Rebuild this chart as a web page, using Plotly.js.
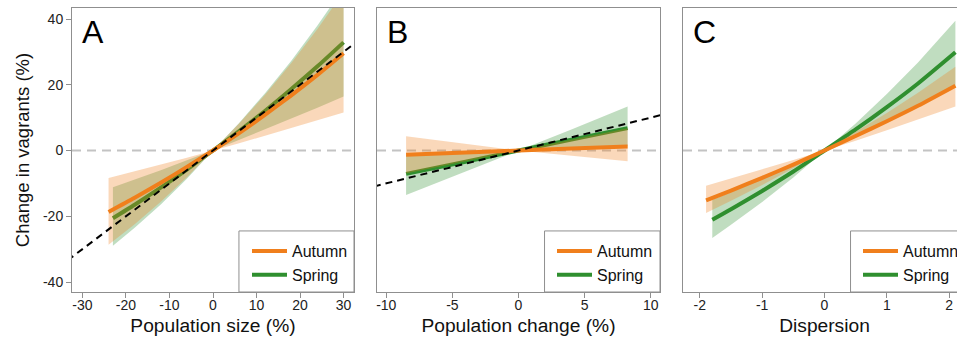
<!DOCTYPE html>
<html><head><meta charset="utf-8">
<script src="https://cdn.plot.ly/plotly-3.0.1.min.js"></script>
<style>html,body{margin:0;padding:0;overflow:hidden;background:#fff}#chart{width:975px;height:342px}</style>
</head><body><div id="chart"></div>
<script>
// Panel A: Population size (%)
const A_aut_x   = [-24, -18, -12, -6, 0, 6, 12, 18, 24, 30];
const A_aut_y   = [-18.7, -14.4, -9.8, -5.0, 0, 5.3, 10.9, 16.8, 23.0, 29.6];
const A_aut_hi  = [-8.4, -6.4, -4.3, -2.2, 0, 8.2, 17.0, 26.6, 37.0, 48.2];
const A_aut_lo  = [-28.7, -22.4, -15.6, -8.1, 0, 2.2, 4.5, 6.8, 9.2, 11.6];
const A_spr_x   = [-23, -18, -12, -6, 0, 6, 12, 18, 24, 30];
const A_spr_y   = [-20.6, -16.5, -11.3, -5.8, 0, 5.9, 12.1, 18.7, 25.6, 32.9];
const A_spr_hi  = [-11.2, -8.9, -6.0, -3.0, 0, 8.4, 17.5, 27.3, 38.0, 49.5];
const A_spr_lo  = [-29.0, -23.5, -16.4, -8.6, 0, 3.1, 6.4, 9.7, 13.0, 16.4];
// Panel B: Population change (%)
const B_aut_x   = [-8.5, -4, 0, 4, 8.25];
const B_aut_y   = [-1.3, -0.6, 0, 0.6, 1.2];
const B_aut_hi  = [4.3, 2.0, 0, 3.3, 6.8];
const B_aut_lo  = [-7.0, -3.3, 0, -1.6, -3.3];
const B_spr_x   = [-8.5, -4, 0, 4, 8.25];
const B_spr_y   = [-7.1, -3.4, 0, 3.3, 6.8];
const B_spr_hi  = [-1.3, -0.6, 0, 6.4, 13.4];
const B_spr_lo  = [-13.5, -6.4, 0, 0.6, 1.2];
// Panel C: Dispersion
const C_aut_x   = [-1.9, -1.5, -1, -0.5, 0, 0.5, 1, 1.5, 2.1];
const C_aut_y   = [-15.2, -12.2, -8.3, -4.3, 0, 4.4, 8.9, 13.6, 19.7];
const C_aut_hi  = [-10.7, -8.5, -5.8, -2.9, 0, 5.6, 11.4, 17.6, 25.5];
const C_aut_lo  = [-19.0, -15.3, -10.5, -5.4, 0, 3.0, 6.2, 9.4, 13.4];
const C_spr_x   = [-1.8, -1.5, -1, -0.5, 0, 0.5, 1, 1.5, 2.1];
const C_spr_y   = [-21.1, -17.9, -12.3, -6.4, 0, 6.4, 13.2, 20.4, 29.9];
const C_spr_hi  = [-15.0, -12.7, -8.6, -4.4, 0, 8.2, 17.2, 26.8, 39.5];
const C_spr_lo  = [-26.6, -22.6, -15.7, -8.2, 0, 4.3, 8.9, 13.6, 19.5];
// 1:1 reference line
const ref_x = [-40, 40];
const ref_y = [-40, 40];

const seriesNames = ['Autumn', 'Spring'];
const panelLetters = ['A', 'B', 'C'];
const xTitles = ['Population size (%)', 'Population change (%)', 'Dispersion'];
const yTitle = 'Change in vagrants (%)';
const xTicksA = [-30, -20, -10, 0, 10, 20, 30];
const xTicksB = [-10, -5, 0, 5, 10];
const xTicksC = [-2, -1, 0, 1, 2];
const yTicks = [-40, -20, 0, 20, 40];

const ORANGE = '#f07f1c', GREEN = '#2f8f2f';
const ORANGE_FILL = 'rgba(240,127,28,0.30)', GREEN_FILL = 'rgba(47,143,47,0.30)';

function band(x, lo, hi, fill, xa, ya) {
  return {x: x.concat(x.slice().reverse()), y: hi.concat(lo.slice().reverse()),
    type: 'scatter', mode: 'lines', fill: 'toself', fillcolor: fill,
    line: {width: 0}, hoverinfo: 'skip', showlegend: false, xaxis: xa, yaxis: ya};
}
function line(x, y, color, name, rank, xa, ya, leg) {
  return {x: x, y: y, type: 'scatter', mode: 'lines', name: name,
    line: {color: color, width: 4, shape: 'spline', smoothing: 0.6}, legendrank: rank, legend: leg, xaxis: xa, yaxis: ya};
}
function refLine(xa, ya) {
  return {x: ref_x, y: ref_y, type: 'scatter', mode: 'lines', showlegend: false,
    line: {color: '#000', width: 2, dash: '7px,5px'}, xaxis: xa, yaxis: ya};
}

const panels = [
  {xa: 'x', ya: 'y', leg: 'legend', d: [A_aut_x, A_aut_y, A_aut_hi, A_aut_lo, A_spr_x, A_spr_y, A_spr_hi, A_spr_lo], ref: true},
  {xa: 'x2', ya: 'y2', leg: 'legend2', d: [B_aut_x, B_aut_y, B_aut_hi, B_aut_lo, B_spr_x, B_spr_y, B_spr_hi, B_spr_lo], ref: true},
  {xa: 'x3', ya: 'y3', leg: 'legend3', d: [C_aut_x, C_aut_y, C_aut_hi, C_aut_lo, C_spr_x, C_spr_y, C_spr_hi, C_spr_lo], ref: false}
];
const data = [];
panels.forEach(p => {
  const [ax, ay, ahi, alo, sx, sy, shi, slo] = p.d;
  data.push(band(sx, slo, shi, GREEN_FILL, p.xa, p.ya));
  data.push(line(sx, sy, GREEN, seriesNames[1], 2, p.xa, p.ya, p.leg));
  data.push(band(ax, alo, ahi, ORANGE_FILL, p.xa, p.ya));
  data.push(line(ax, ay, ORANGE, seriesNames[0], 1, p.xa, p.ya, p.leg));
  if (p.ref) data.push(refLine(p.xa, p.ya));
});

const W = 975, H = 342;
const px = v => v / W;
const yDom = [1 - 292 / H, 1 - 8 / H];
const FRAME = '#8f8f8f';
const FAM = 'Liberation Sans, Arial, sans-serif';
const tickFont = {family: FAM, size: 14, color: '#222'};
function xax(dom, range, ticks, title) {
  return {domain: dom, range: range, tickvals: ticks, ticktext: ticks.map(String), showgrid: false, zeroline: false,
    showline: true, mirror: true, linecolor: FRAME, linewidth: 1, ticks: 'outside', ticklen: 5, tickcolor: FRAME,
    ticklabelstandoff: -5,
    tickfont: tickFont, title: {text: title, font: {family: FAM, size: 19.2, color: '#111'}, standoff: 6}, fixedrange: true};
}
function yax(anchor, show) {
  return {domain: yDom, range: [-43.04, 43.35], anchor: anchor, tickvals: yTicks, ticktext: yTicks.map(String),
    showticklabels: show, ticks: show ? 'outside' : '', ticklen: 5, tickcolor: FRAME,
    showgrid: false, zeroline: false, showline: true, mirror: true, linecolor: FRAME, linewidth: 1,
    tickfont: tickFont, title: show ? {text: yTitle, font: {family: FAM, size: 18.5, color: '#111'}, standoff: 8} : {text: ''}, fixedrange: true};
}
const doms = [[px(72), px(354)], [px(377), px(660)], [px(683), px(966)]];
const shapes = [];
const annotations = [];
['x', 'x2', 'x3'].forEach((xa, i) => {
  const ya = ['y', 'y2', 'y3'][i];
  shapes.push({type: 'line', xref: xa + ' domain', yref: ya, x0: 0, x1: 1, y0: 0, y1: 0,
    line: {color: '#c3c3c3', width: 2, dash: '9px,6px'}, layer: 'below'});
  shapes.push({type: 'rect', xref: xa + ' domain', yref: ya + ' domain', x0: 0.592, x1: 1, y0: 0, y1: 0.215,
    line: {color: FRAME, width: 1}, fillcolor: 'rgba(0,0,0,0)'});
  annotations.push({text: panelLetters[i], xref: xa + ' domain', yref: ya + ' domain', x: 0.03, y: 0.985,
    xanchor: 'left', yanchor: 'top', showarrow: false, font: {family: FAM, size: 32, color: '#000'}});
});
function legend(i) {
  return {x: px(doms[i][0] * W + 175), y: 1 - 234 / H, xanchor: 'left', yanchor: 'top', xref: 'paper', yref: 'paper',
    bgcolor: 'rgba(0,0,0,0)', borderwidth: 0, font: {family: FAM, size: 16, color: '#111'},
    itemwidth: 35, tracegroupgap: 0};
}
const layout = {
  width: W, height: H, margin: {l: 0, r: 0, t: 0, b: 0}, paper_bgcolor: '#fff', plot_bgcolor: '#fff',
  xaxis: xax(doms[0], [-32.4, 32.4], xTicksA, xTitles[0]),
  xaxis2: xax(doms[1], [-10.7, 10.7], xTicksB, xTitles[1]),
  xaxis3: xax(doms[2], [-2.27, 2.27], xTicksC, xTitles[2]),
  yaxis: yax('x', true), yaxis2: yax('x2', false), yaxis3: yax('x3', false),
  shapes: shapes, annotations: annotations,
  legend: legend(0), legend2: legend(1), legend3: legend(2),
  showlegend: true
};
layout.xaxis.anchor = 'y'; layout.xaxis2.anchor = 'y2'; layout.xaxis3.anchor = 'y3';
Plotly.newPlot('chart', data, layout, {staticPlot: true, responsive: false});
</script></body></html>
